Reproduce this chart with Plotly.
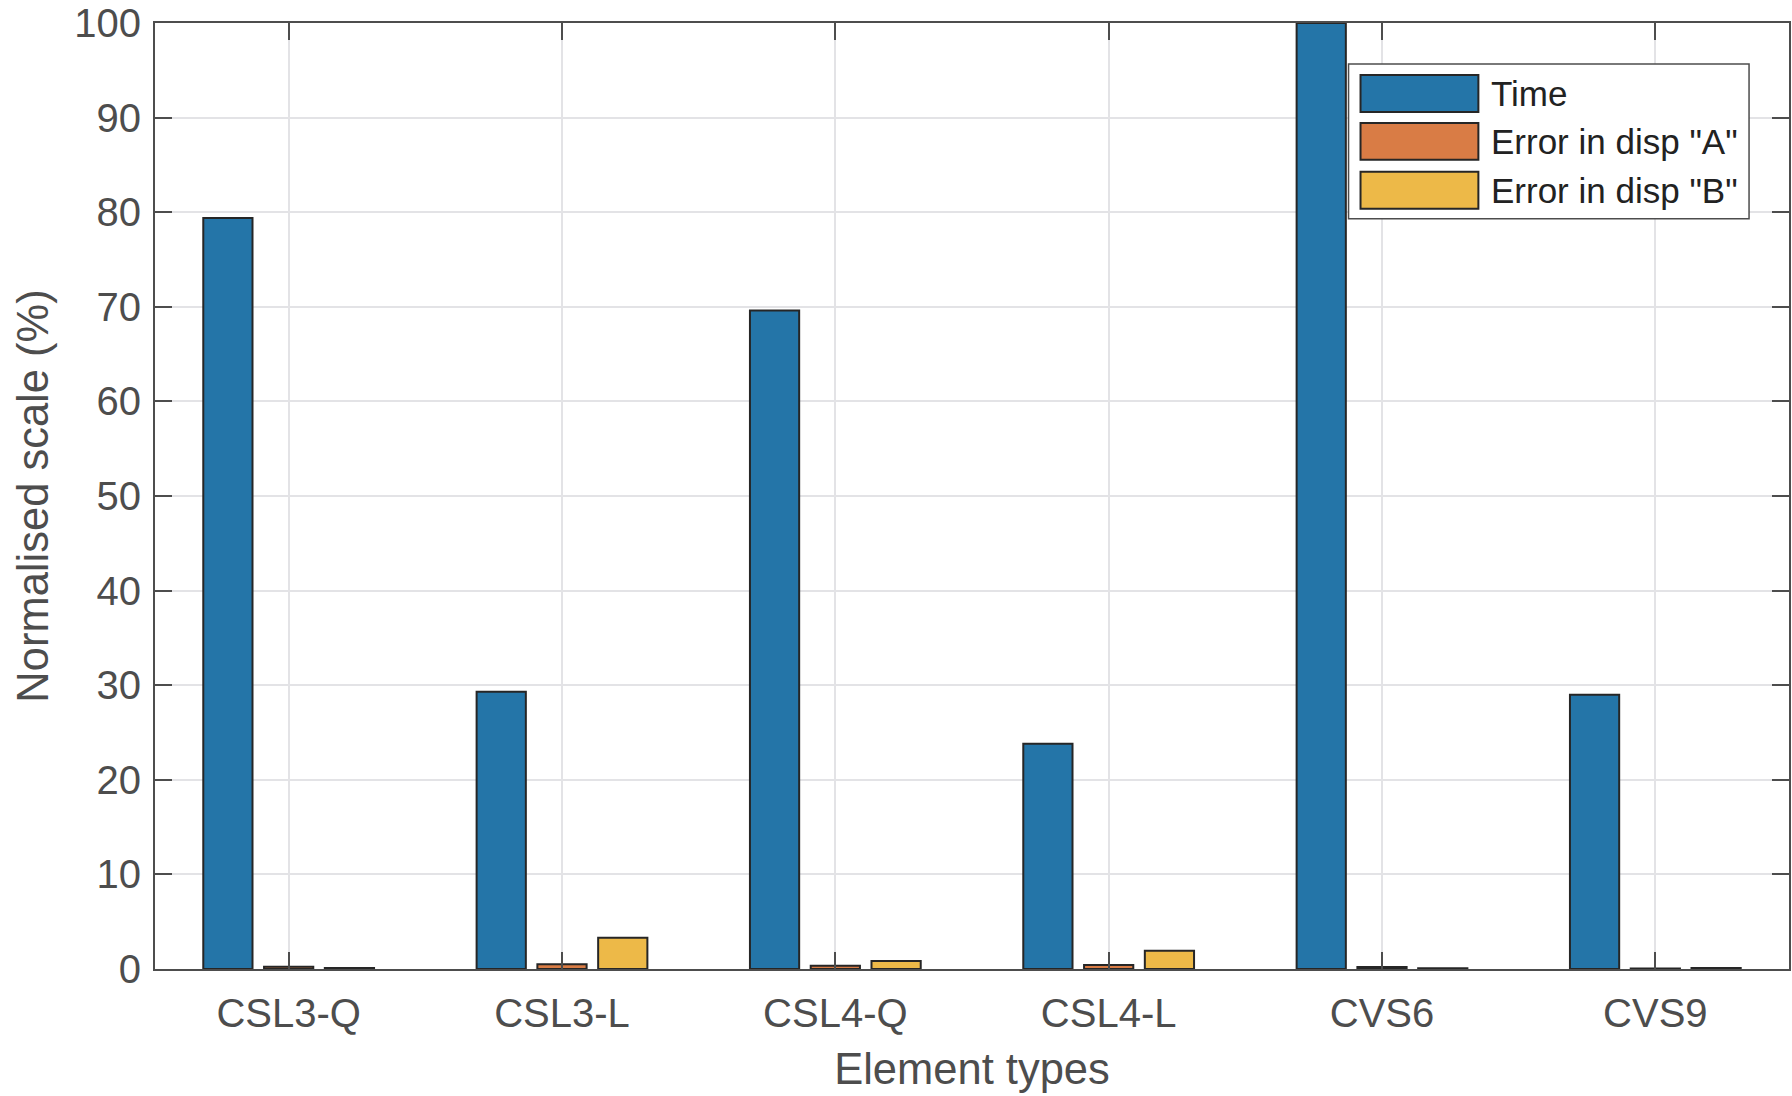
import plotly.graph_objects as go

# Element types and normalised results (%)
categories = ["CSL3-Q", "CSL3-L", "CSL4-Q", "CSL4-L", "CVS6", "CVS9"]
series_names = ["Time", 'Error in disp "A"', 'Error in disp "B"']
time_vals = [79.4, 29.3, 69.6, 23.8, 100.0, 29.0]
err_a_vals = [0.25, 0.5, 0.35, 0.42, 0.2, 0.05]
err_b_vals = [0.1, 3.3, 0.85, 1.93, 0.08, 0.1]
y_ticks = [0, 10, 20, 30, 40, 50, 60, 70, 80, 90, 100]

colors = ["#2475A8", "#D97C45", "#EDB948"]
edge = "#262626"
axis_col = "#4d4d4d"
font_family = "Liberation Sans, Arial, Helvetica, sans-serif"

W, H = 1792, 1096
L, R, T, B = 155, 1, 22, 127
pw, ph = W - L - R, H - T - B

x_pos = list(range(1, len(categories) + 1))

fig = go.Figure()
for name, vals, col in zip(series_names, [time_vals, err_a_vals, err_b_vals], colors):
    fig.add_trace(go.Bar(
        x=x_pos, y=vals, name=name,
        marker=dict(color=col, line=dict(color=edge, width=2)),
        showlegend=False,
    ))


def px_x(px):
    return (px - L) / pw


def px_y(py):
    return (H - B - py) / ph


# Legend box drawn with shapes so the swatches keep their wide look
shapes = [dict(type="rect", xref="paper", yref="paper",
               x0=px_x(1350), x1=px_x(1751), y0=px_y(218), y1=px_y(63),
               line=dict(color=axis_col, width=1.5), fillcolor="white", layer="above")]
annotations = []
row_tops = [74, 122, 171]
for i, (name, col) in enumerate(zip(series_names, colors)):
    top = row_tops[i]
    bot = top + 37
    shapes.append(dict(type="rect", xref="paper", yref="paper",
                       x0=px_x(1362), x1=px_x(1480), y0=px_y(bot), y1=px_y(top),
                       line=dict(color=edge, width=2), fillcolor=col, layer="above"))
    annotations.append(dict(xref="paper", yref="paper", x=px_x(1491), y=px_y((top + bot) / 2),
                            text=name, showarrow=False, xanchor="left", yanchor="middle",
                            font=dict(size=35, color="#222222", family=font_family)))

fig.update_layout(
    width=W, height=H,
    margin=dict(l=L, r=R, t=T, b=B, pad=0),
    paper_bgcolor="white", plot_bgcolor="white",
    barmode="group", bargap=0.333, bargroupgap=0.19,
    font=dict(family=font_family, color=axis_col),
    shapes=shapes, annotations=annotations,
    xaxis=dict(
        range=[0.511, 6.489], tickvals=x_pos, ticktext=categories,
        showgrid=True, gridcolor="#e3e3e6", gridwidth=1.5,
        showline=True, linecolor=axis_col, linewidth=2, mirror="ticks",
        ticks="inside", ticklen=17, tickwidth=2, tickcolor=axis_col,
        tickfont=dict(size=40, color=axis_col), ticklabelstandoff=8,
        title=dict(text="Element types", font=dict(size=43.5, color=axis_col), standoff=20),
        zeroline=False,
    ),
    yaxis=dict(
        range=[0, 100], tickvals=y_ticks,
        showgrid=True, gridcolor="#e3e3e6", gridwidth=1.5,
        showline=True, linecolor=axis_col, linewidth=2, mirror="ticks",
        ticks="inside", ticklen=17, tickwidth=2, tickcolor=axis_col,
        tickfont=dict(size=40, color=axis_col), ticklabelstandoff=4,
        title=dict(text="Normalised scale (%)", font=dict(size=43.5, color=axis_col), standoff=12),
        zeroline=False,
    ),
)

fig.write_html("out.html")
